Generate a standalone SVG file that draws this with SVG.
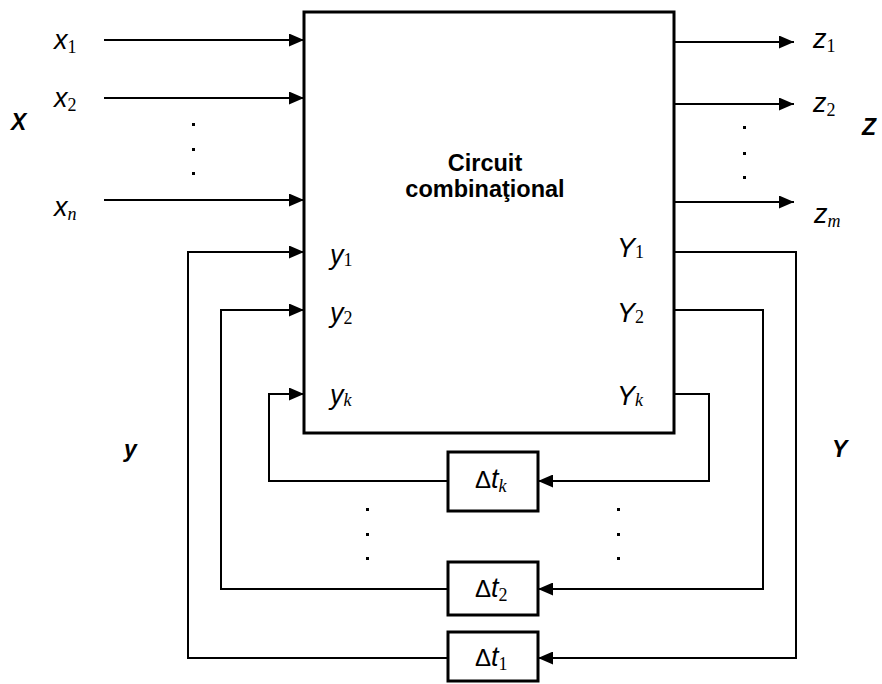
<svg xmlns="http://www.w3.org/2000/svg" width="882" height="684" viewBox="0 0 882 684">
<style>
.box{fill:#fff;stroke:#000;stroke-width:3}
.ln{fill:none;stroke:#000;stroke-width:2}
.v{font-family:"Liberation Sans",Arial,sans-serif;font-style:italic;font-size:27px}
.s{font-family:"Liberation Serif","Times New Roman",serif;font-size:18px;font-style:normal}
.si{font-family:"Liberation Serif","Times New Roman",serif;font-size:18px;font-style:italic}
.b{font-family:"Liberation Sans",Arial,sans-serif;font-weight:bold;font-size:23.5px}
.bi{font-family:"Liberation Sans",Arial,sans-serif;font-weight:bold;font-style:italic;font-size:23px}
.d{font-family:"Liberation Sans",Arial,sans-serif;font-size:24px}
.dot{fill:#000}
</style>
<defs>
<marker id="ar" viewBox="0 0 15 13" refX="15" refY="6.5" markerWidth="15" markerHeight="13" markerUnits="userSpaceOnUse" orient="auto">
<path d="M0,0 L15,6.5 L0,13 Z" fill="#000"/>
</marker>
</defs>

<g id="connectors">
<line class="ln" x1="104" y1="40" x2="304" y2="40" marker-end="url(#ar)"/>
<line class="ln" x1="104" y1="98" x2="304" y2="98" marker-end="url(#ar)"/>
<line class="ln" x1="104" y1="200" x2="304" y2="200" marker-end="url(#ar)"/>
<line class="ln" x1="674" y1="42" x2="794" y2="42" marker-end="url(#ar)"/>
<line class="ln" x1="674" y1="104" x2="794" y2="104" marker-end="url(#ar)"/>
<line class="ln" x1="674" y1="202" x2="794" y2="202" marker-end="url(#ar)"/>
<polyline class="ln" points="448,658 188,658 188,252 304,252" marker-end="url(#ar)"/>
<polyline class="ln" points="448,589 221,589 221,310 304,310" marker-end="url(#ar)"/>
<polyline class="ln" points="448,481 269,481 269,394 304,394" marker-end="url(#ar)"/>
<polyline class="ln" points="674,252 796,252 796,658 538,658" marker-end="url(#ar)"/>
<polyline class="ln" points="674,310 763,310 763,589 538,589" marker-end="url(#ar)"/>
<polyline class="ln" points="674,394 709,394 709,481 538,481" marker-end="url(#ar)"/>
</g>

<g id="circuit">
<rect class="box" x="304" y="12" width="370" height="421"/>
<text class="b" x="485" y="171" text-anchor="middle">Circuit</text>
<text class="b" x="485" y="197" text-anchor="middle">combinaţional</text>
<text class="v" x="330" y="264">y<tspan class="s" dy="2">1</tspan></text>
<text class="v" x="330" y="322">y<tspan class="s" dy="2">2</tspan></text>
<text class="v" x="330" y="404">y<tspan class="si" dy="2">k</tspan></text>
<text class="v" x="617" y="257">Y<tspan class="s" dy="1">1</tspan></text>
<text class="v" x="617" y="322">Y<tspan class="s" dy="1">2</tspan></text>
<text class="v" x="617" y="405">Y<tspan class="si" dy="1">k</tspan></text>
</g>

<g id="delay-k">
<rect class="box" x="448" y="452" width="90" height="59"/>
<text class="d" x="475" y="488">Δ<tspan class="v" font-size="25">t</tspan><tspan class="si" dy="4">k</tspan></text>
</g>
<g id="delay-2">
<rect class="box" x="448" y="562" width="90" height="53"/>
<text class="d" x="475" y="597">Δ<tspan class="v" font-size="25">t</tspan><tspan class="s" dy="4">2</tspan></text>
</g>
<g id="delay-1">
<rect class="box" x="448" y="632" width="90" height="49"/>
<text class="d" x="475" y="666">Δ<tspan class="v" font-size="25">t</tspan><tspan class="s" dy="4">1</tspan></text>
</g>

<g id="inputs">
<text class="v" x="54" y="49">x<tspan class="s" dy="4">1</tspan></text>
<text class="v" x="54" y="107">x<tspan class="s" dy="4">2</tspan></text>
<text class="v" x="54" y="216">x<tspan class="si" dy="4">n</tspan></text>
<text class="bi" x="11" y="130">X</text>
<rect class="dot" x="192" y="123" width="3" height="3"/>
<rect class="dot" x="192" y="148" width="3" height="3"/>
<rect class="dot" x="192" y="172" width="3" height="3"/>
</g>

<g id="outputs">
<text class="v" x="813" y="48">z<tspan class="s" dy="4">1</tspan></text>
<text class="v" x="813" y="112">z<tspan class="s" dy="4">2</tspan></text>
<text class="v" x="814" y="223">z<tspan class="si" dy="4">m</tspan></text>
<text class="bi" x="862" y="135">Z</text>
<rect class="dot" x="743" y="126" width="3" height="3"/>
<rect class="dot" x="743" y="152" width="3" height="3"/>
<rect class="dot" x="743" y="176" width="3" height="3"/>
</g>

<g id="labels">
<text class="bi" x="124" y="457">y</text>
<text class="bi" x="832" y="457">Y</text>
<rect class="dot" x="366" y="508" width="3" height="3"/>
<rect class="dot" x="366" y="533" width="3" height="3"/>
<rect class="dot" x="366" y="557" width="3" height="3"/>
<rect class="dot" x="617" y="508" width="3" height="3"/>
<rect class="dot" x="617" y="533" width="3" height="3"/>
<rect class="dot" x="617" y="557" width="3" height="3"/>
</g>
</svg>
